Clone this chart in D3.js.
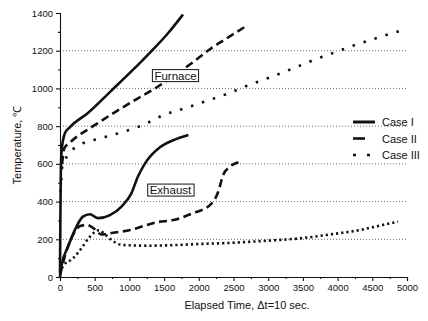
<!DOCTYPE html>
<html>
<head>
<meta charset="utf-8">
<script src="https://cdn.jsdelivr.net/npm/d3@7"></script>
<style>
  body { margin: 0; background: #fff; }
  text { font-family: "Liberation Sans", Arial, sans-serif; fill: #111; }
</style>
</head>
<body>
<div id="chart"></div>
<script>
// elapsed time (x10 s) vs temperature (C)
var furnace1 = [[0,20],[5,300],[12,550],[24,673],[72,763],[144,795],[403,870],[745,990],[1050,1098],[1297,1190],[1550,1290],[1772,1392]];
var furnace2 = [[30,600],[60,680],[150,715],[500,805],[1080,938],[1370,1000],[1650,1070],[1920,1140],[2160,1208],[2400,1265],[2700,1335]];
var furnace3 = [[10,450],[30,580],[100,640],[260,695],[580,735],[870,765],[1190,805],[1500,860],[1800,895],[2100,932],[2400,970],[2700,1015],[3000,1055],[3350,1105],[3650,1150],[3950,1190],[4250,1230],[4600,1272],[4900,1305]];
var exhaust1 = [[0,0],[25,65],[115,160],[215,250],[330,320],[430,333],[550,312],[720,328],[890,375],[1030,445],[1120,530],[1230,605],[1440,688],[1630,725],[1850,753]];
var exhaust2 = [[0,10],[70,110],[185,222],[290,270],[385,276],[500,254],[600,225],[720,232],[1010,249],[1390,290],[1630,302],[1920,339],[2160,381],[2280,452],[2350,540],[2450,585],[2600,612]];
var exhaust3 = [[0,20],[40,55],[190,100],[290,143],[430,213],[560,248],[650,225],[745,196],[865,172],[1000,168],[1300,166],[1700,170],[2000,175],[2400,180],[2740,187],[3100,195],[3460,205],[3940,228],[4320,249],[4650,276],[4870,293]];

var caseNames = ["Case I", "Case II", "Case III"];
var xTicks = [0,500,1000,1500,2000,2500,3000,3500,4000,4500,5000];
var yTicks = [0,200,400,600,800,1000,1200,1400];
var gridLevels = [200,400,600,800,1000,1200];

var W = 428, H = 321;
var margin = {top: 13, right: 21, bottom: 44, left: 60};

var svg = d3.select("#chart").append("svg")
  .attr("width", W).attr("height", H);

var x = d3.scaleLinear().domain([0, 5000]).range([margin.left, W - margin.right]);
var y = d3.scaleLinear().domain([0, 1400]).range([H - margin.bottom, margin.top]);

// dotted grid
svg.append("g").selectAll("line").data(gridLevels).enter().append("line")
  .attr("x1", x(0)).attr("x2", x(5000))
  .attr("y1", d => y(d)).attr("y2", d => y(d))
  .attr("stroke", "#444").attr("stroke-width", 0.8)
  .attr("stroke-dasharray", "1,2");

// axes
svg.append("g").attr("transform", "translate(0," + y(0) + ")")
  .call(d3.axisBottom(x).tickValues(xTicks).tickFormat(d3.format("d")).tickSize(4).tickPadding(3));
svg.append("g").attr("transform", "translate(0," + y(0) + ")")
  .call(d3.axisBottom(x).tickValues(d3.range(250, 5000, 500)).tickSize(2).tickFormat(""))
  .select(".domain").remove();
svg.append("g").attr("transform", "translate(" + x(0) + ",0)")
  .call(d3.axisLeft(y).tickValues(yTicks).tickFormat(d3.format("d")).tickSize(4).tickPadding(3));
svg.append("g").attr("transform", "translate(" + x(0) + ",0)")
  .call(d3.axisLeft(y).tickValues(d3.range(100, 1400, 200)).tickSize(2).tickFormat(""))
  .select(".domain").remove();

svg.selectAll(".tick text").style("font-size", "9.5px").style("font-family", "Liberation Sans, Arial, sans-serif");
svg.selectAll(".domain, .tick line").attr("stroke", "#111").attr("stroke-width", 1.1);

// axis titles
svg.append("text")
  .attr("x", 247).attr("y", 309)
  .attr("text-anchor", "middle").style("font-size", "11px")
  .text("Elapsed Time, \u0394t=10 sec.");
svg.append("text")
  .attr("transform", "translate(21," + y(700) + ") rotate(-90)")
  .attr("text-anchor", "middle").style("font-size", "11px")
  .text("Temperature, \u2103");

// curves
var line = d3.line().x(d => x(d[0])).y(d => y(d[1])).curve(d3.curveMonotoneX);
var styles = [
  {dash: null, width: 2.6},
  {dash: "8,4.5", width: 2.6},
  {dash: "2.5,9", width: 2.6}
];
var series = [
  [furnace1, 0], [furnace2, 1], [furnace3, 2],
  [exhaust1, 0], [exhaust2, 1], [exhaust3, 2]
];
series.forEach(function(s, i) {
  var st = styles[s[1]];
  var dash = st.dash;
  if (i == 5) dash = "2.2,3";
  svg.append("path")
    .datum(s[0])
    .attr("d", line)
    .attr("fill", "none")
    .attr("stroke", "#111")
    .attr("stroke-width", st.width)
    .attr("stroke-dasharray", dash);
});

// boxed labels
function boxLabel(txt, cx, cy) {
  var g = svg.append("g");
  var rect = g.append("rect");
  var t = g.append("text")
    .attr("x", cx).attr("y", cy + 4)
    .attr("text-anchor", "middle").style("font-size", "11.5px")
    .text(txt);
  var b = t.node().getBBox();
  rect.attr("x", b.x - 2).attr("y", b.y)
    .attr("width", b.width + 4).attr("height", b.height)
    .attr("fill", "#fff").attr("stroke", "#111").attr("stroke-width", 1);
}
boxLabel("Furnace", x(1664), y(1068));
boxLabel("Exhaust", x(1592), y(461));

// legend
var legend = svg.append("g").attr("transform", "translate(353,122)");
caseNames.forEach(function(name, i) {
  var g = legend.append("g").attr("transform", "translate(0," + (i * 16.5) + ")");
  var len = i == 0 ? 22 : (i == 1 ? 12 : 18);
  g.append("line")
    .attr("x1", 0).attr("x2", len)
    .attr("stroke", "#111").attr("stroke-width", i == 0 ? 3 : 2.6)
    .attr("stroke-dasharray", i == 2 ? "3,11" : null);
  g.append("text")
    .attr("x", 29).attr("y", 4)
    .style("font-size", "11px")
    .text(name);
});
</script>
</body>
</html>
